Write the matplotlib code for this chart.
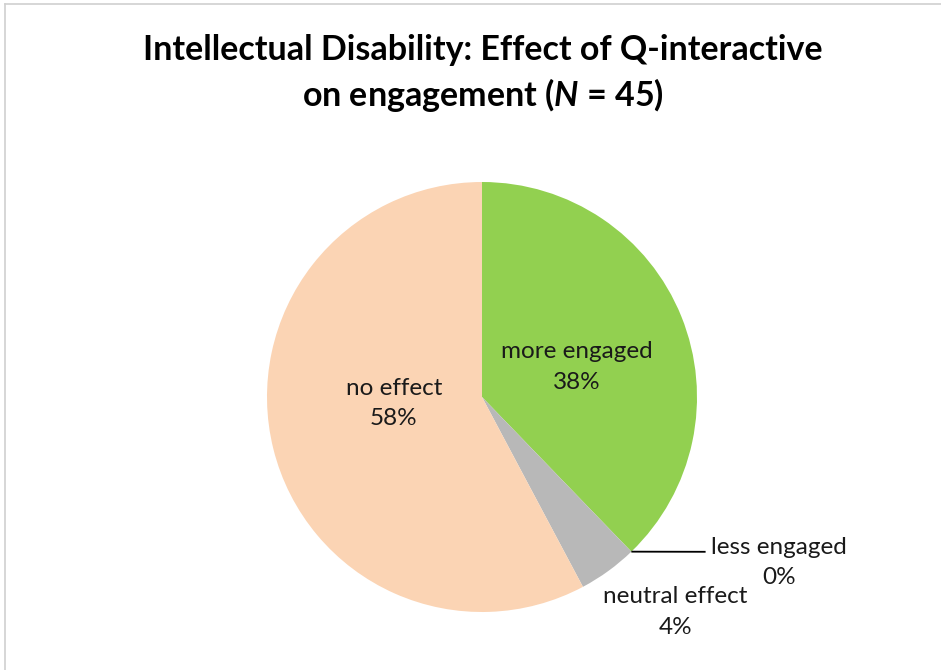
import matplotlib
matplotlib.use("Agg")
import matplotlib.pyplot as plt
from matplotlib.lines import Line2D
import numpy as np

categories = ["more engaged", "less engaged", "neutral effect", "no effect"]
values = [17, 0, 2, 26]
pct_labels = ["38%", "0%", "4%", "58%"]
colors = ["#92D050", "#E46C0A", "#B8B8B8", "#FBD4B4"]

plt.rcParams['font.family'] = ['Lato', 'DejaVu Sans']
plt.rcParams['mathtext.fontset'] = 'custom'
plt.rcParams['mathtext.it'] = 'Lato:bold:italic'
plt.rcParams['mathtext.rm'] = 'Lato:bold'

fig = plt.figure(figsize=(9.41, 6.70), dpi=100)
ax = fig.add_axes([(482 - 215) / 941, (273 - 215) / 670, 430 / 941, 430 / 670])
ax.pie(values, colors=colors, startangle=90, counterclock=False, radius=1.0,
       wedgeprops=dict(linewidth=0))
ax.set_xlim(-1, 1)
ax.set_ylim(-1, 1)
ax.set_aspect('equal')
ax.axis('off')

label_pos = {
    "more engaged": (0.44, 0.14),
    "less engaged": (1.38, -0.77),
    "neutral effect": (0.90, -1.00),
    "no effect": (-0.41, -0.03),
}
for cat, pct in zip(categories, pct_labels):
    x, y = label_pos[cat]
    ax.text(x, y, f"{cat}\n{pct}", ha='center', va='center', fontsize=17.5,
            color='#1a1a1a', linespacing=1.55, clip_on=False)

# leader line for 0% slice
ang = np.deg2rad(90 - 360 * values[0] / sum(values))
ax.plot([np.cos(ang), 1.04], [np.sin(ang), -0.72], color='black', lw=1.3,
        clip_on=False, solid_capstyle='butt')

fig.text(0.513, 1 - 74 / 670, "Intellectual Disability: Effect of Q-interactive\non engagement ($N$ = 45)",
         ha='center', va='center', fontsize=24.5, fontweight='bold', color='black',
         linespacing=1.3)

# chart border (top and left)
fig.add_artist(Line2D([5 / 941, 1], [1 - 4 / 670, 1 - 4 / 670], color='#D0D0D0', lw=1.2))
fig.add_artist(Line2D([5 / 941, 5 / 941], [0, 1 - 4 / 670], color='#D0D0D0', lw=1.2))

fig.savefig("out.png", dpi=100)
